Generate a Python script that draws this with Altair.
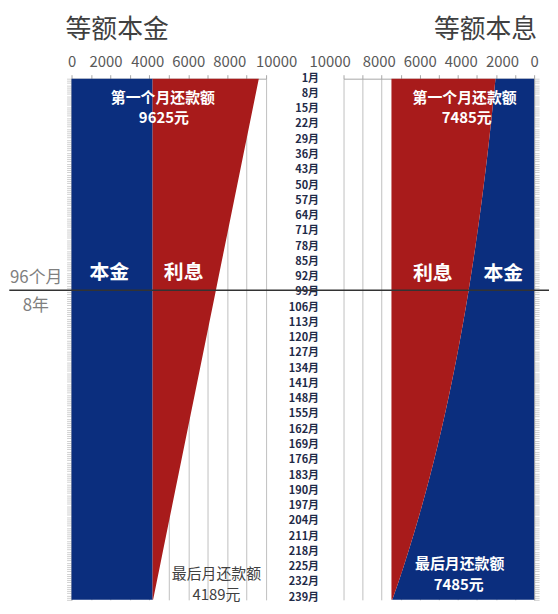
import altair as alt
import pandas as pd

FONT = "Noto Sans CJK SC"
BLUE = "#0b2e7e"
RED = "#a81b1b"

# month positions that carry labels (plus the final month)
months = [1, 8, 15, 22, 29, 36, 43, 50, 57, 64, 71, 78, 85, 92, 99, 106, 113, 120,
          127, 134, 141, 148, 155, 162, 169, 176, 183, 190, 197, 204, 211, 218,
          225, 232, 239, 240]

# 等额本金 (equal principal)
left_principal = [4167, 4167, 4167, 4167, 4167, 4167, 4167, 4167, 4167, 4167, 4167, 4167,
                  4167, 4167, 4167, 4167, 4167, 4167, 4167, 4167, 4167, 4167, 4167, 4167,
                  4167, 4167, 4167, 4167, 4167, 4167, 4167, 4167, 4167, 4167, 4167, 4167]
left_interest = [5458, 5299, 5140, 4981, 4822, 4662, 4503, 4344, 4185, 4026, 3867, 3707,
                 3548, 3389, 3230, 3071, 2911, 2752, 2593, 2434, 2275, 2116, 1956, 1797,
                 1638, 1479, 1320, 1160, 1001, 842, 683, 524, 365, 205, 46, 23]

# 等额本息 (equal payment)
right_principal = [2027, 2106, 2187, 2272, 2360, 2452, 2547, 2646, 2749, 2855, 2966, 3081,
                   3201, 3325, 3454, 3588, 3728, 3873, 4023, 4179, 4342, 4510, 4685, 4867,
                   5056, 5253, 5457, 5669, 5889, 6118, 6355, 6602, 6859, 7125, 7405, 7445]
right_payment = [7485, 7485, 7485, 7485, 7485, 7485, 7485, 7485, 7485, 7485, 7485, 7485,
                 7485, 7485, 7485, 7485, 7485, 7485, 7485, 7485, 7485, 7485, 7485, 7485,
                 7485, 7485, 7485, 7485, 7485, 7485, 7485, 7485, 7485, 7485, 7485, 7485]

label_months = months[:-1]
month_labels = [f"{m}月" for m in label_months]
x_ticks = [0, 1000, 2000, 3000, 4000, 5000, 6000, 7000, 8000, 9000, 10000]
split_month = [98]

df_left = pd.DataFrame({
    "month": months,
    "zero": [0] * len(months),
    "principal": left_principal,
    "total": [p + i for p, i in zip(left_principal, left_interest)],
})
df_right = pd.DataFrame({
    "month": months,
    "zero": [0] * len(months),
    "principal": right_principal,
    "total": right_payment,
})
df_labels = pd.DataFrame({"month": label_months, "label": month_labels})
df_rule = pd.DataFrame({"month": split_month})

W_L, W_R, H = 196, 192, 525
GAP = 78

LEFT_OFFSETS = {2000: -5, 4000: -2, 8000: 2, 10000: 10}
RIGHT_OFFSETS = {2000: 6, 4000: 3, 8000: -3, 10000: -14}


def x_axis(offsets):
    conds = [{"test": f"datum.value == {v}", "value": o} for v, o in offsets.items()]
    return alt.Axis(orient="top", values=x_ticks, format="d",
                    labelExpr="datum.value % 2000 == 0 ? datum.label : ''",
                    labelFontSize=15, labelColor="#595959", labelFont=FONT,
                    labelPadding=5, tickSize=4, tickColor="#a6a6a6",
                    labelOffset={"condition": conds, "value": 0},
                    domainColor="#a6a6a6", grid=True, gridColor="#bfbfbf",
                    gridWidth=1, title=None, labelFlush=False, labelOverlap=False)


def y_enc(orient):
    return alt.Y("month:Q",
                 scale=alt.Scale(domain=[1, 240], reverse=True, nice=False, zero=False),
                 axis=alt.Axis(orient=orient, values=list(range(1, 241)), labels=False,
                               tickSize=5, tickColor="#b0b0b0", tickWidth=0.6,
                               domainColor="#a6a6a6", grid=False, title=None))


def txt(s, x, y, size=15, color="white", weight="bold", align="center"):
    return alt.Chart(pd.DataFrame({"t": [s]})).mark_text(
        font=FONT, fontSize=size, color=color, fontWeight=weight,
        align=align, baseline="middle").encode(
        text="t:N", x=alt.value(x), y=alt.value(y))


# ---------- left panel ----------
xl = alt.Scale(domain=[0, 10000], nice=False)
yl = y_enc("left")
lb = alt.Chart(df_left).mark_area(orient="horizontal", color=BLUE).encode(
    x=alt.X("zero:Q", scale=xl, axis=x_axis(LEFT_OFFSETS)), x2="principal:Q", y=yl)
lr = alt.Chart(df_left).mark_area(orient="horizontal", color=RED).encode(
    x=alt.X("principal:Q", scale=xl, axis=x_axis(LEFT_OFFSETS)), x2="total:Q", y=yl)

left = alt.layer(
    lb, lr,
    txt("等额本金", -6, -48.5, size=26, color="#404040", weight="normal", align="left"),
    txt("第一个月还款额", 92, 19),
    txt("9625元", 93, 40),
    txt("本金", 38, 196, size=20),
    txt("利息", 113, 196, size=20),
    txt("96个月", -62, 201, size=17, color="#7f7f7f", weight="normal", align="left"),
    txt("8年", -36, 229, size=17, color="#7f7f7f", weight="normal"),
    txt("最后月还款额", 146, 499, color="#404040", weight="normal"),
    txt("4189元", 146, 520, color="#404040", weight="normal"),
).properties(width=W_L, height=H)

# ---------- right panel ----------
xr = alt.Scale(domain=[0, 10000], nice=False, reverse=True)
yr = y_enc("right")
rb = alt.Chart(df_right).mark_area(orient="horizontal", color=BLUE).encode(
    x=alt.X("zero:Q", scale=xr, axis=x_axis(RIGHT_OFFSETS)), x2="principal:Q", y=yr)
rr = alt.Chart(df_right).mark_area(orient="horizontal", color=RED).encode(
    x=alt.X("principal:Q", scale=xr, axis=x_axis(RIGHT_OFFSETS)), x2="total:Q", y=yr)
labels = alt.Chart(df_labels).mark_text(
    font=FONT, fontSize=11, fontWeight="bold", color="#1f2b48",
    align="right", baseline="middle").encode(
    y=yr, x=alt.value(-24.7), text="label:N")
rule = alt.Chart(df_rule).mark_rule(color="#333333", strokeWidth=1.5).encode(
    y=yr, x=alt.value(-(GAP + W_L + 62.7)), x2=alt.value(W_R + 15))

right = alt.layer(
    rb, rr, labels,
    txt("等额本息", 195, -48.5, size=26, color="#404040", weight="normal", align="right"),
    txt("第一个月还款额", 122, 19),
    txt("7485元", 124, 40),
    txt("利息", 90, 197, size=20),
    txt("本金", 161, 197, size=20),
    txt("最后月还款额", 117, 489),
    txt("7485元", 116, 510),
    rule,
).properties(width=W_R, height=H)

chart = alt.hconcat(
    left, right, spacing=GAP, bounds="flush",
    padding={"left": 0, "top": 7, "right": 0, "bottom": 0},
).configure_view(stroke=None)

chart.save("out.html", embed_options={"renderer": "svg", "actions": False})
